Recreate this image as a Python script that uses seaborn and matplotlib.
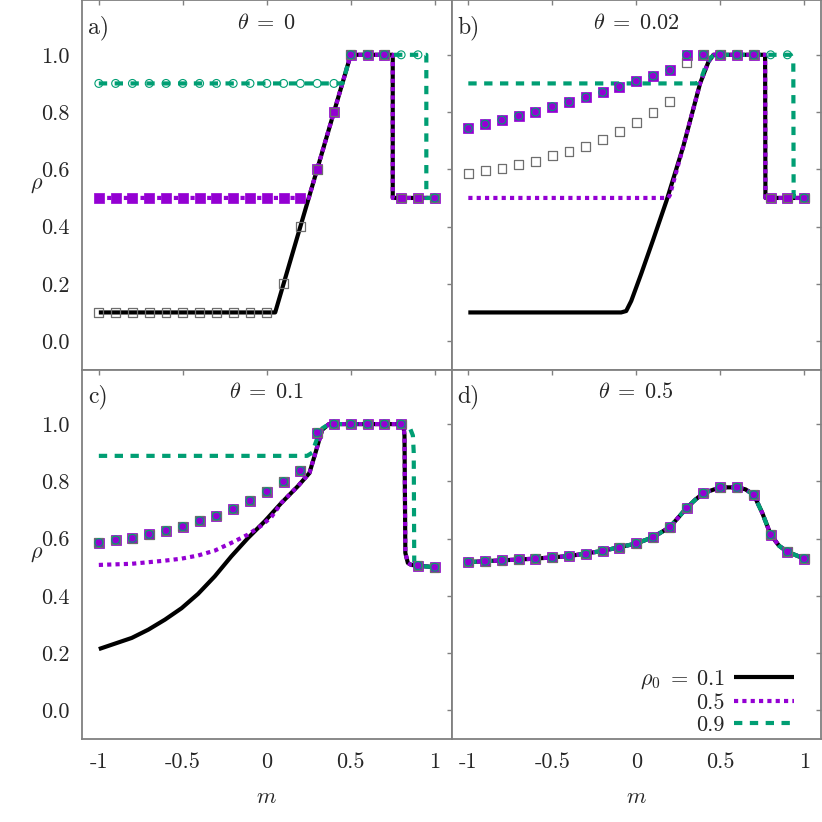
import matplotlib
matplotlib.use("Agg")
import matplotlib.pyplot as plt
import seaborn as sns

sns.set_style("white")
plt.rcParams['font.family'] = ['cmr10', 'DejaVu Serif']
plt.rcParams['mathtext.fontset'] = 'cm'
plt.rcParams['axes.formatter.use_mathtext'] = True

BLACK = 'black'
PURPLE = '#9400d3'
GREEN = '#009e73'
GRAY = '#6e6e6e'
FRAME = '#808080'

# simulation points, m = -1 ... 1 step 0.1
m_grid = [-1.0, -0.9, -0.8, -0.7, -0.6, -0.5, -0.4, -0.3, -0.2, -0.1, 0.0,
          0.1, 0.2, 0.3, 0.4, 0.5, 0.6, 0.7, 0.8, 0.9, 1.0]

# a) theta = 0
a_m_01 = [-1.0, 0.05, 0.5, 0.75, 0.75, 1.0]
a_r_01 = [0.1, 0.1, 1.0, 1.0, 0.5, 0.5]
a_m_05 = [-1.0, 0.25, 0.5, 0.75, 0.75, 1.0]
a_r_05 = [0.5, 0.5, 1.0, 1.0, 0.5, 0.5]
a_m_09 = [-1.0, 0.45, 0.5, 0.95, 0.95, 1.0]
a_r_09 = [0.9, 0.9, 1.0, 1.0, 0.5, 0.5]
a_pts_01 = [0.1, 0.1, 0.1, 0.1, 0.1, 0.1, 0.1, 0.1, 0.1, 0.1, 0.1,
            0.2, 0.4, 0.6, 0.8, 1.0, 1.0, 1.0, 0.5, 0.5, 0.5]
a_pts_05 = [0.5, 0.5, 0.5, 0.5, 0.5, 0.5, 0.5, 0.5, 0.5, 0.5, 0.5,
            0.5, 0.5, 0.6, 0.8, 1.0, 1.0, 1.0, 0.5, 0.5, 0.5]
a_pts_09 = [0.9, 0.9, 0.9, 0.9, 0.9, 0.9, 0.9, 0.9, 0.9, 0.9, 0.9,
            0.9, 0.9, 0.9, 0.9, 1.0, 1.0, 1.0, 1.0, 1.0, 0.5]

# b) theta = 0.02
b_m_01 = [-1.0, -0.09, -0.06, -0.03, 0.03, 0.1, 0.18, 0.28, 0.38, 0.43, 0.46, 0.767, 0.769, 1.0]
b_r_01 = [0.1, 0.1, 0.105, 0.14, 0.236, 0.353, 0.49, 0.68, 0.9, 0.976, 1.0, 1.0, 0.5, 0.5]
b_m_05 = [-1.0, 0.19, 0.2, 0.28, 0.38, 0.43, 0.46, 0.767, 0.769, 1.0]
b_r_05 = [0.5, 0.5, 0.51, 0.68, 0.9, 0.976, 1.0, 1.0, 0.5, 0.5]
b_m_09 = [-1.0, 0.36, 0.385, 0.41, 0.44, 0.47, 0.92, 0.935, 0.937, 1.0]
b_r_09 = [0.9, 0.9, 0.915, 0.955, 0.99, 1.0, 1.0, 0.98, 0.505, 0.5]
b_pts_01 = [0.586, 0.595, 0.603, 0.617, 0.626, 0.647, 0.661, 0.679, 0.705, 0.731, 0.764,
            0.798, 0.838, 0.972, 1.0, 1.0, 1.0, 1.0, 0.5, 0.5, 0.5]
b_pts_05 = [0.743, 0.758, 0.772, 0.786, 0.800, 0.819, 0.835, 0.852, 0.869, 0.889, 0.908,
            0.926, 0.946, 1.0, 1.0, 1.0, 1.0, 1.0, 0.5, 0.5, 0.5]
b_pts_09 = [0.743, 0.758, 0.772, 0.786, 0.800, 0.819, 0.835, 0.852, 0.869, 0.889, 0.908,
            0.926, 0.946, 1.0, 1.0, 1.0, 1.0, 1.0, 1.0, 1.0, 0.5]

# c) theta = 0.1
c_m_01 = [-1.0, -0.804, -0.705, -0.606, -0.507, -0.409, -0.31, -0.211, -0.112, -0.013,
          0.086, 0.185, 0.254, 0.29, 0.33, 0.37, 0.8, 0.815, 0.82, 0.825, 0.84, 0.86, 1.0]
c_r_01 = [0.214, 0.253, 0.282, 0.317, 0.357, 0.407, 0.468, 0.538, 0.602, 0.66,
          0.724, 0.783, 0.829, 0.9, 0.98, 1.0, 1.0, 0.99, 0.96, 0.55, 0.515, 0.508, 0.5]
c_m_05 = [-1.0, -0.804, -0.606, -0.507, -0.409, -0.31, -0.211, -0.112, -0.033, 0.027,
          0.086, 0.185, 0.254, 0.29, 0.33, 0.37, 0.8, 0.815, 0.82, 0.825, 0.84, 0.86, 1.0]
c_r_05 = [0.508, 0.512, 0.523, 0.53, 0.541, 0.558, 0.585, 0.614, 0.645, 0.675,
          0.724, 0.783, 0.829, 0.9, 0.98, 1.0, 1.0, 0.99, 0.96, 0.55, 0.515, 0.508, 0.5]
c_m_09 = [-1.0, 0.24, 0.27, 0.3, 0.33, 0.37, 0.82, 0.85, 0.87, 0.875, 0.878, 0.9, 1.0]
c_r_09 = [0.889, 0.889, 0.9, 0.95, 0.985, 1.0, 1.0, 0.99, 0.96, 0.9, 0.52, 0.505, 0.5]
c_pts = [0.586, 0.595, 0.601, 0.615, 0.628, 0.642, 0.662, 0.679, 0.703, 0.732, 0.764,
         0.799, 0.837, 0.97, 1.0, 1.0, 1.0, 1.0, 1.0, 0.506, 0.5]

# d) theta = 0.5 (all three rho0 coincide)
d_m = [-1.0, -0.8, -0.6, -0.4, -0.2, 0.0, 0.1, 0.2, 0.3, 0.35, 0.4, 0.5, 0.6, 0.65,
       0.7, 0.75, 0.8, 0.85, 0.9, 1.0]
d_r = [0.518, 0.524, 0.530, 0.539, 0.557, 0.583, 0.605, 0.640, 0.707, 0.735, 0.759,
       0.779, 0.779, 0.772, 0.753, 0.690, 0.614, 0.575, 0.554, 0.530]
d_pts = [0.518, 0.521, 0.524, 0.527, 0.530, 0.534, 0.539, 0.546, 0.557, 0.568, 0.583,
         0.605, 0.640, 0.707, 0.759, 0.779, 0.779, 0.753, 0.614, 0.554, 0.530]

panel_tags = ['a)', 'b)', 'c)', 'd)']
panel_thetas = [r'$\theta\;=\;0$', r'$\theta\;=\;0.02$', r'$\theta\;=\;0.1$', r'$\theta\;=\;0.5$']
legend_labels = [r'$\rho_0\;=\;0.1$', '0.5', '0.9']
x_ticks = [-1, -0.5, 0, 0.5, 1]
x_ticklabels = ['-1', '-0.5', '0', '0.5', '1']
y_ticks = [0.0, 0.2, 0.4, 0.6, 0.8, 1.0]
y_ticklabels = ['0.0', '0.2', '0.4', '0.6', '0.8', '1.0']

panels = [
    ((a_m_01, a_r_01), (a_m_05, a_r_05), (a_m_09, a_r_09), (a_pts_01, a_pts_05, a_pts_09)),
    ((b_m_01, b_r_01), (b_m_05, b_r_05), (b_m_09, b_r_09), (b_pts_01, b_pts_05, b_pts_09)),
    ((c_m_01, c_r_01), (c_m_05, c_r_05), (c_m_09, c_r_09), (c_pts, c_pts, c_pts)),
    ((d_m, d_r), (d_m, d_r), (d_m, d_r), (d_pts, d_pts, d_pts)),
]


def draw_panel(ax, data):
    l01, l05, l09, pts = data
    sns.lineplot(x=l01[0], y=l01[1], ax=ax, estimator=None, sort=False,
                 color=BLACK, lw=3, solid_capstyle='butt', zorder=2)
    sns.lineplot(x=l05[0], y=l05[1], ax=ax, estimator=None, sort=False,
                 color=PURPLE, lw=3, linestyle=(0, (1, 1)), dash_capstyle='butt', zorder=3)
    sns.lineplot(x=l09[0], y=l09[1], ax=ax, estimator=None, sort=False,
                 color=GREEN, lw=3, linestyle=(0, (2, 1.8)), dash_capstyle='butt', zorder=4)
    sns.scatterplot(x=m_grid, y=pts[1], ax=ax, marker='s', s=42, color=PURPLE,
                    edgecolor=PURPLE, linewidth=0.5, zorder=5)
    sns.scatterplot(x=m_grid, y=pts[0], ax=ax, marker='s', s=40, facecolors='none',
                    edgecolors=GRAY, linewidth=0.9, zorder=6)
    sns.scatterplot(x=m_grid, y=pts[2], ax=ax, marker='o', s=32, facecolors='none',
                    edgecolors=GREEN, linewidth=0.8, zorder=7)


fig, axes = plt.subplots(2, 2, figsize=(8.22, 8.22), dpi=100)
plt.subplots_adjust(left=0.0998, right=0.9988, bottom=0.101, top=0.9995,
                    wspace=0, hspace=0)

for i, ax in enumerate(axes.flat):
    draw_panel(ax, panels[i])
    ax.set_xlim(-1.1, 1.1)
    ax.set_ylim(-0.1, 1.19)
    ax.set_xticks(x_ticks)
    ax.set_xticklabels(x_ticklabels)
    ax.set_yticks(y_ticks)
    ax.set_yticklabels(y_ticklabels)
    ax.tick_params(direction='in', top=True, right=True, length=3.6, width=1,
                   color=FRAME, labelsize=16)
    ax.tick_params(axis='y', pad=9)
    ax.tick_params(axis='x', pad=10)
    for sp in ax.spines.values():
        sp.set_color(FRAME)
        sp.set_linewidth(1.3)
    row, col = divmod(i, 2)
    if row == 0:
        ax.tick_params(labelbottom=False)
        ax.set_xlabel('')
    else:
        ax.set_xlabel(r'$m$', fontsize=16, va='center')
        ax.xaxis.set_label_coords(0.5, -0.157)
    if col == 1:
        ax.tick_params(labelleft=False)
        ax.set_ylabel('')
    else:
        ax.set_ylabel(r'$\rho$', fontsize=16, rotation=0, ha='center', va='center')
        ax.yaxis.set_label_coords(-0.122, 0.5)
    ax.text(0.016, 0.911, panel_tags[i], transform=ax.transAxes, fontsize=17,
            ha='left', va='baseline')
    ax.text(0.5, 0.922, panel_thetas[i], transform=ax.transAxes, fontsize=16,
            ha='center', va='baseline')

# legend in panel d, gnuplot style: text first (right-aligned), sample on the right
ax_d = axes[1, 1]
handles = ax_d.get_lines()[:3]
ax_d.legend(handles, legend_labels, loc='lower right', bbox_to_anchor=(0.926, 0.012),
            frameon=False, fontsize=16, markerfirst=False, handlelength=2.7,
            handletextpad=0.4, labelspacing=0.1, borderpad=0, borderaxespad=0)

fig.savefig('out.png', dpi=100)
